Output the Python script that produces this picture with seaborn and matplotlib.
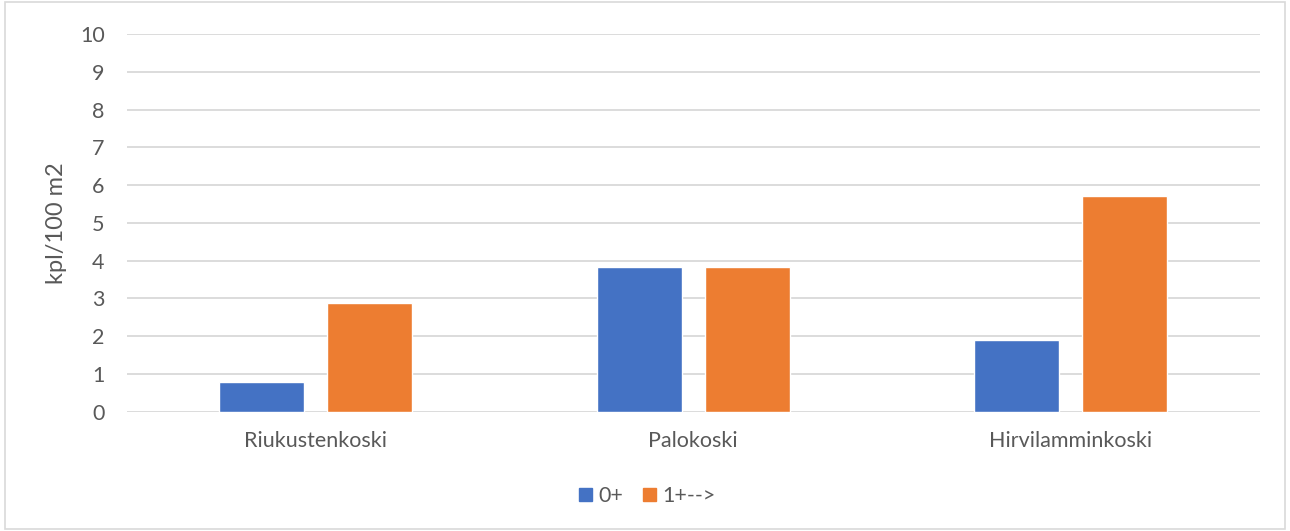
import matplotlib
matplotlib.use('Agg')
import matplotlib.pyplot as plt
import pandas as pd
import seaborn as sns
from matplotlib.patches import Rectangle

SITES = ['Riukustenkoski', 'Palokoski', 'Hirvilamminkoski']
AGE_0 = [0.78, 3.82, 1.9]
AGE_1 = [2.88, 3.82, 5.7]
SERIES = ['0+', '1+-->']
COLORS = ['#4472C4', '#ED7D31']

data = pd.DataFrame({
    'site': SITES * 2,
    'value': AGE_0 + AGE_1,
    'group': [SERIES[0]] * len(SITES) + [SERIES[1]] * len(SITES),
})

sns.set_style('white')
plt.rcParams['font.family'] = ['Lato', 'DejaVu Sans']

fig = plt.figure(figsize=(12.9, 5.31), dpi=100)
ax = fig.add_axes([0.0984, 0.2247, 0.878, 0.7113])
sns.barplot(data=data, x='site', y='value', hue='group', palette=COLORS,
            width=0.57, gap=0.21, ax=ax, legend=False, saturation=1)

ax.set_ylim(0, 10)
ax.set_xlim(-0.5, 2.5)
ax.set_yticks(range(0, 11))
ax.yaxis.grid(True, color='#d9d9d9', linewidth=1.3)
ax.set_axisbelow(True)
for s in ax.spines.values():
    s.set_visible(False)
ax.tick_params(axis='both', length=0, labelsize=15.5, colors='#595959')
ax.tick_params(axis='x', pad=14)
ax.tick_params(axis='y', pad=16)
ax.set_xlabel('')
ax.set_ylabel('kpl/100 m2', fontsize=17, color='#595959')
ax.yaxis.set_label_coords(-0.053, 0.5)

handles = [Rectangle((0, 0), 1, 1, color=c) for c in COLORS]
fig.legend(handles, SERIES, loc='center', bbox_to_anchor=(0.502, 0.066), ncol=2,
           frameon=False, fontsize=15.5, handlelength=0.6, handleheight=0.6,
           handletextpad=0.3, columnspacing=0.9, labelcolor='#595959')

fig.patches.append(Rectangle((0.004, 0.004), 0.992, 0.992, transform=fig.transFigure,
                             fill=False, edgecolor='#d9d9d9', linewidth=1.2))

fig.savefig('out.png', dpi=100)
